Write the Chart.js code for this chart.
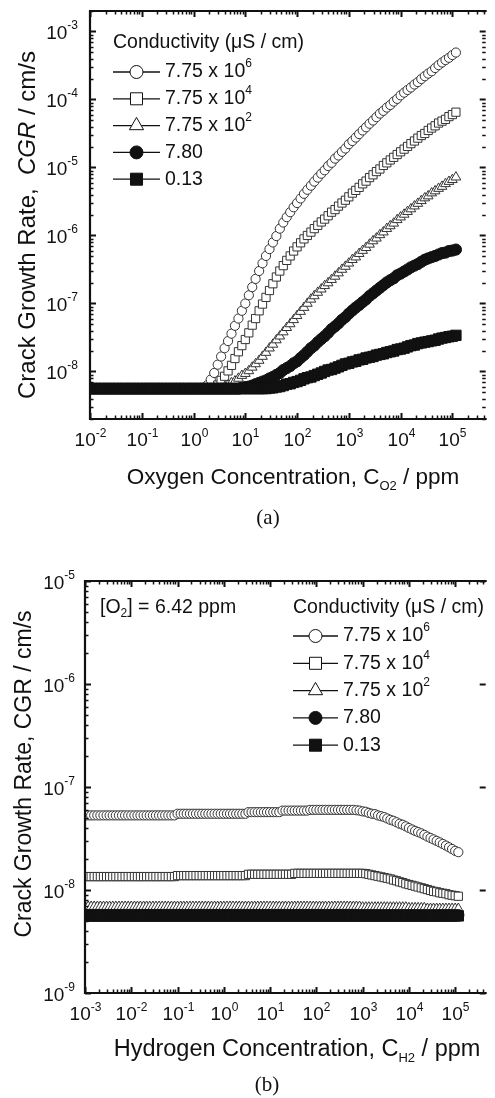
<!DOCTYPE html>
<html>
<head>
<meta charset="utf-8">
<title>Crack growth rate vs O2 / H2 concentration</title>
<script src="https://cdn.jsdelivr.net/npm/chart.js@4.4.0/dist/chart.umd.min.js"></script>
<style>
  html, body { margin: 0; padding: 0; background: #fff; }
  body { width: 495px; height: 1098px; position: relative; overflow: hidden; }
  canvas { position: absolute; left: 0; }
  #chart-o2 { top: 0; }
  #chart-h2 { top: 545px; }
</style>
</head>
<body>
<canvas id="chart-o2" width="495" height="540"></canvas>
<canvas id="chart-h2" width="495" height="553"></canvas>
<script>
// ---- data (one row per decade) ----

// (a) oxygen concentration, ppm
const o2Ppm = [
  0.01, 0.0117, 0.0136, 0.0158, 0.0185, 0.0215, 0.0251, 0.0293, 0.0341, 0.0398, 0.0464, 0.0541, 0.0631, 0.0736, 0.0858,
  0.1, 0.117, 0.136, 0.158, 0.185, 0.215, 0.251, 0.293, 0.341, 0.398, 0.464, 0.541, 0.631, 0.736, 0.858,
  1, 1.17, 1.36, 1.58, 1.85, 2.15, 2.51, 2.93, 3.41, 3.98, 4.64, 5.41, 6.31, 7.36, 8.58,
  10, 11.7, 13.6, 15.8, 18.5, 21.5, 25.1, 29.3, 34.1, 39.8, 46.4, 54.1, 63.1, 73.6, 85.8,
  100, 117, 136, 158, 185, 215, 251, 293, 341, 398, 464, 541, 631, 736, 858,
  1000, 1170, 1360, 1580, 1850, 2150, 2510, 2930, 3410, 3980, 4640, 5410, 6310, 7360, 8580,
  10000, 11700, 13600, 15800, 18500, 21500, 25100, 29300, 34100, 39800, 46400, 54100, 63100, 73600, 85800,
  100000, 117000
];

// CGR (cm/s) for each conductivity (uS/cm)
const o2Cgr775e6 = [
  5.6e-9, 5.6e-9, 5.6e-9, 5.6e-9, 5.6e-9, 5.6e-9, 5.6e-9, 5.6e-9, 5.6e-9, 5.6e-9, 5.6e-9, 5.6e-9, 5.6e-9, 5.6e-9, 5.6e-9,
  5.6e-9, 5.6e-9, 5.6e-9, 5.6e-9, 5.6e-9, 5.6e-9, 5.6e-9, 5.6e-9, 5.6e-9, 5.6e-9, 5.6e-9, 5.6e-9, 5.6e-9, 5.6e-9, 5.6e-9,
  5.6e-9, 5.6e-9, 5.6e-9, 5.6e-9, 6.3e-9, 7.6e-9, 9.5e-9, 1.26e-8, 1.66e-8, 2.2e-8, 2.8e-8, 3.6e-8, 4.7e-8, 6.0e-8, 7.8e-8,
  1.0e-7, 1.32e-7, 1.74e-7, 2.3e-7, 3.0e-7, 3.9e-7, 5.0e-7, 6.3e-7, 7.9e-7, 9.8e-7, 1.26e-6, 1.55e-6, 1.86e-6, 2.2e-6, 2.6e-6,
  3.0e-6, 3.5e-6, 4.1e-6, 4.7e-6, 5.4e-6, 6.2e-6, 7.1e-6, 8.1e-6, 9.1e-6, 1.05e-5, 1.17e-5, 1.35e-5, 1.5e-5, 1.7e-5, 1.9e-5,
  2.2e-5, 2.45e-5, 2.75e-5, 3.1e-5, 3.5e-5, 3.9e-5, 4.4e-5, 4.9e-5, 5.5e-5, 6.2e-5, 6.8e-5, 7.6e-5, 8.3e-5, 9.3e-5, 1.02e-4,
  1.15e-4, 1.26e-4, 1.38e-4, 1.5e-4, 1.66e-4, 1.8e-4, 2.0e-4, 2.2e-4, 2.4e-4, 2.6e-4, 2.9e-4, 3.2e-4, 3.5e-4, 3.8e-4, 4.1e-4,
  4.5e-4, 4.9e-4
];
const o2Cgr775e4 = [
  5.6e-9, 5.6e-9, 5.6e-9, 5.6e-9, 5.6e-9, 5.6e-9, 5.6e-9, 5.6e-9, 5.6e-9, 5.6e-9, 5.6e-9, 5.6e-9, 5.6e-9, 5.6e-9, 5.6e-9,
  5.6e-9, 5.6e-9, 5.6e-9, 5.6e-9, 5.6e-9, 5.6e-9, 5.6e-9, 5.6e-9, 5.6e-9, 5.6e-9, 5.6e-9, 5.6e-9, 5.6e-9, 5.6e-9, 5.6e-9,
  5.6e-9, 5.6e-9, 5.6e-9, 5.6e-9, 5.6e-9, 5.6e-9, 5.6e-9, 6.3e-9, 7.4e-9, 8.5e-9, 1.02e-8, 1.23e-8, 1.55e-8, 1.95e-8, 2.4e-8,
  2.95e-8, 3.7e-8, 4.8e-8, 6.0e-8, 7.8e-8, 9.8e-8, 1.23e-7, 1.55e-7, 1.95e-7, 2.45e-7, 3.0e-7, 3.6e-7, 4.3e-7, 5.0e-7, 5.9e-7,
  6.8e-7, 7.8e-7, 8.9e-7, 1.0e-6, 1.12e-6, 1.26e-6, 1.41e-6, 1.58e-6, 1.74e-6, 1.95e-6, 2.2e-6, 2.4e-6, 2.7e-6, 3.0e-6, 3.3e-6,
  3.7e-6, 4.2e-6, 4.6e-6, 5.1e-6, 5.75e-6, 6.3e-6, 7.1e-6, 7.8e-6, 8.7e-6, 9.5e-6, 1.07e-5, 1.17e-5, 1.29e-5, 1.41e-5, 1.55e-5,
  1.7e-5, 1.86e-5, 2.04e-5, 2.24e-5, 2.45e-5, 2.7e-5, 2.95e-5, 3.16e-5, 3.5e-5, 3.8e-5, 4.1e-5, 4.5e-5, 4.8e-5, 5.1e-5, 5.6e-5,
  6.0e-5, 6.5e-5
];
const o2Cgr775e2 = [
  5.6e-9, 5.6e-9, 5.6e-9, 5.6e-9, 5.6e-9, 5.6e-9, 5.6e-9, 5.6e-9, 5.6e-9, 5.6e-9, 5.6e-9, 5.6e-9, 5.6e-9, 5.6e-9, 5.6e-9,
  5.6e-9, 5.6e-9, 5.6e-9, 5.6e-9, 5.6e-9, 5.6e-9, 5.6e-9, 5.6e-9, 5.6e-9, 5.6e-9, 5.6e-9, 5.6e-9, 5.6e-9, 5.6e-9, 5.6e-9,
  5.6e-9, 5.6e-9, 5.6e-9, 5.6e-9, 5.6e-9, 5.6e-9, 5.6e-9, 5.6e-9, 5.6e-9, 5.9e-9, 6.3e-9, 6.8e-9, 7.2e-9, 7.9e-9, 8.7e-9,
  9.3e-9, 1.02e-8, 1.15e-8, 1.29e-8, 1.45e-8, 1.66e-8, 1.9e-8, 2.2e-8, 2.5e-8, 2.9e-8, 3.3e-8, 3.8e-8, 4.4e-8, 5.0e-8, 5.75e-8,
  6.6e-8, 7.6e-8, 8.7e-8, 1.0e-7, 1.15e-7, 1.29e-7, 1.45e-7, 1.62e-7, 1.82e-7, 2.0e-7, 2.24e-7, 2.5e-7, 2.8e-7, 3.16e-7, 3.5e-7,
  3.9e-7, 4.4e-7, 4.8e-7, 5.4e-7, 6.0e-7, 6.6e-7, 7.4e-7, 8.3e-7, 9.1e-7, 1.02e-6, 1.12e-6, 1.26e-6, 1.38e-6, 1.51e-6, 1.7e-6,
  1.86e-6, 2.04e-6, 2.24e-6, 2.45e-6, 2.7e-6, 2.95e-6, 3.24e-6, 3.55e-6, 3.8e-6, 4.2e-6, 4.5e-6, 4.9e-6, 5.25e-6, 5.75e-6, 6.2e-6,
  6.6e-6, 7.2e-6
];
const o2Cgr780 = [
  5.6e-9, 5.6e-9, 5.6e-9, 5.6e-9, 5.6e-9, 5.6e-9, 5.6e-9, 5.6e-9, 5.6e-9, 5.6e-9, 5.6e-9, 5.6e-9, 5.6e-9, 5.6e-9, 5.6e-9,
  5.6e-9, 5.6e-9, 5.6e-9, 5.6e-9, 5.6e-9, 5.6e-9, 5.6e-9, 5.6e-9, 5.6e-9, 5.6e-9, 5.6e-9, 5.6e-9, 5.6e-9, 5.6e-9, 5.6e-9,
  5.6e-9, 5.6e-9, 5.6e-9, 5.6e-9, 5.6e-9, 5.6e-9, 5.6e-9, 5.6e-9, 5.6e-9, 5.6e-9, 5.6e-9, 5.6e-9, 5.6e-9, 5.6e-9, 5.75e-9,
  5.9e-9, 6.0e-9, 6.2e-9, 6.5e-9, 6.8e-9, 7.1e-9, 7.4e-9, 7.9e-9, 8.3e-9, 8.9e-9, 9.5e-9, 1.05e-8, 1.12e-8, 1.2e-8, 1.32e-8,
  1.41e-8, 1.58e-8, 1.74e-8, 1.95e-8, 2.2e-8, 2.4e-8, 2.7e-8, 3.0e-8, 3.3e-8, 3.7e-8, 4.2e-8, 4.6e-8, 5.1e-8, 5.75e-8, 6.3e-8,
  7.1e-8, 7.9e-8, 8.7e-8, 9.5e-8, 1.05e-7, 1.15e-7, 1.29e-7, 1.41e-7, 1.55e-7, 1.7e-7, 1.86e-7, 2.04e-7, 2.2e-7, 2.35e-7, 2.6e-7,
  2.75e-7, 2.95e-7, 3.16e-7, 3.4e-7, 3.6e-7, 3.8e-7, 4.1e-7, 4.4e-7, 4.6e-7, 4.8e-7, 5.0e-7, 5.25e-7, 5.5e-7, 5.6e-7, 5.9e-7,
  6.0e-7, 6.2e-7
];
const o2Cgr013 = [
  5.6e-9, 5.6e-9, 5.6e-9, 5.6e-9, 5.6e-9, 5.6e-9, 5.6e-9, 5.6e-9, 5.6e-9, 5.6e-9, 5.6e-9, 5.6e-9, 5.6e-9, 5.6e-9, 5.6e-9,
  5.6e-9, 5.6e-9, 5.6e-9, 5.6e-9, 5.6e-9, 5.6e-9, 5.6e-9, 5.6e-9, 5.6e-9, 5.6e-9, 5.6e-9, 5.6e-9, 5.6e-9, 5.6e-9, 5.6e-9,
  5.6e-9, 5.6e-9, 5.6e-9, 5.6e-9, 5.6e-9, 5.6e-9, 5.6e-9, 5.6e-9, 5.6e-9, 5.6e-9, 5.6e-9, 5.6e-9, 5.6e-9, 5.6e-9, 5.6e-9,
  5.6e-9, 5.6e-9, 5.6e-9, 5.6e-9, 5.6e-9, 5.6e-9, 5.6e-9, 5.7e-9, 5.75e-9, 5.9e-9, 6.0e-9, 6.2e-9, 6.5e-9, 6.6e-9, 6.9e-9,
  7.1e-9, 7.4e-9, 7.8e-9, 8.1e-9, 8.3e-9, 8.7e-9, 9.1e-9, 9.5e-9, 1.0e-8, 1.05e-8, 1.07e-8, 1.12e-8, 1.17e-8, 1.23e-8, 1.29e-8,
  1.32e-8, 1.38e-8, 1.41e-8, 1.48e-8, 1.51e-8, 1.58e-8, 1.62e-8, 1.66e-8, 1.74e-8, 1.78e-8, 1.82e-8, 1.9e-8, 1.95e-8, 2.0e-8, 2.1e-8,
  2.14e-8, 2.2e-8, 2.3e-8, 2.4e-8, 2.45e-8, 2.57e-8, 2.63e-8, 2.7e-8, 2.75e-8, 2.82e-8, 2.88e-8, 3.0e-8, 3.1e-8, 3.16e-8, 3.24e-8,
  3.3e-8, 3.4e-8
];

// (b) hydrogen concentration, ppm ([O2] = 6.42 ppm)
const h2Ppm = [
  0.001, 0.00117, 0.00136, 0.00158, 0.00185, 0.00215, 0.00251, 0.00293, 0.00341, 0.00398, 0.00464, 0.00541, 0.00631, 0.00736, 0.00858,
  0.01, 0.0117, 0.0136, 0.0158, 0.0185, 0.0215, 0.0251, 0.0293, 0.0341, 0.0398, 0.0464, 0.0541, 0.0631, 0.0736, 0.0858,
  0.1, 0.117, 0.136, 0.158, 0.185, 0.215, 0.251, 0.293, 0.341, 0.398, 0.464, 0.541, 0.631, 0.736, 0.858,
  1, 1.17, 1.36, 1.58, 1.85, 2.15, 2.51, 2.93, 3.41, 3.98, 4.64, 5.41, 6.31, 7.36, 8.58,
  10, 11.7, 13.6, 15.8, 18.5, 21.5, 25.1, 29.3, 34.1, 39.8, 46.4, 54.1, 63.1, 73.6, 85.8,
  100, 117, 136, 158, 185, 215, 251, 293, 341, 398, 464, 541, 631, 736, 858,
  1000, 1170, 1360, 1580, 1850, 2150, 2510, 2930, 3410, 3980, 4640, 5410, 6310, 7360, 8580,
  10000, 11700, 13600, 15800, 18500, 21500, 25100, 29300, 34100, 39800, 46400, 54100, 63100, 73600, 85800,
  100000, 117000
];
const h2Cgr775e6 = [
  5.3e-8, 5.3e-8, 5.3e-8, 5.3e-8, 5.3e-8, 5.3e-8, 5.3e-8, 5.3e-8, 5.3e-8, 5.3e-8, 5.3e-8, 5.3e-8, 5.3e-8, 5.3e-8, 5.3e-8,
  5.3e-8, 5.3e-8, 5.3e-8, 5.3e-8, 5.3e-8, 5.3e-8, 5.3e-8, 5.3e-8, 5.3e-8, 5.3e-8, 5.3e-8, 5.3e-8, 5.3e-8, 5.3e-8, 5.3e-8,
  5.5e-8, 5.5e-8, 5.5e-8, 5.5e-8, 5.5e-8, 5.5e-8, 5.5e-8, 5.5e-8, 5.5e-8, 5.5e-8, 5.5e-8, 5.5e-8, 5.5e-8, 5.5e-8, 5.5e-8,
  5.5e-8, 5.5e-8, 5.5e-8, 5.5e-8, 5.5e-8, 5.5e-8, 5.5e-8, 5.5e-8, 5.7e-8, 5.7e-8, 5.7e-8, 5.7e-8, 5.7e-8, 5.7e-8, 5.7e-8,
  5.7e-8, 5.7e-8, 5.7e-8, 5.7e-8, 5.9e-8, 5.9e-8, 5.9e-8, 5.9e-8, 5.9e-8, 5.9e-8, 5.9e-8, 5.9e-8, 5.9e-8, 6.0e-8, 6.0e-8,
  6.0e-8, 6.0e-8, 6.0e-8, 6.0e-8, 6.0e-8, 6.0e-8, 6.0e-8, 6.0e-8, 6.0e-8, 6.0e-8, 6.0e-8, 6.0e-8, 6.0e-8, 5.95e-8, 5.9e-8,
  5.8e-8, 5.75e-8, 5.6e-8, 5.5e-8, 5.45e-8, 5.3e-8, 5.2e-8, 5.1e-8, 4.95e-8, 4.8e-8, 4.7e-8, 4.55e-8, 4.4e-8, 4.3e-8, 4.15e-8,
  4.0e-8, 3.87e-8, 3.75e-8, 3.65e-8, 3.55e-8, 3.43e-8, 3.3e-8, 3.2e-8, 3.1e-8, 3.0e-8, 2.9e-8, 2.8e-8, 2.7e-8, 2.6e-8, 2.5e-8,
  2.4e-8, 2.33e-8
];
const h2Cgr775e4 = [
  1.35e-8, 1.35e-8, 1.35e-8, 1.35e-8, 1.35e-8, 1.35e-8, 1.35e-8, 1.35e-8, 1.35e-8, 1.35e-8, 1.35e-8, 1.35e-8, 1.35e-8, 1.35e-8, 1.35e-8,
  1.35e-8, 1.35e-8, 1.35e-8, 1.35e-8, 1.35e-8, 1.35e-8, 1.35e-8, 1.35e-8, 1.35e-8, 1.35e-8, 1.35e-8, 1.35e-8, 1.35e-8, 1.35e-8, 1.35e-8,
  1.38e-8, 1.38e-8, 1.38e-8, 1.38e-8, 1.38e-8, 1.38e-8, 1.38e-8, 1.38e-8, 1.38e-8, 1.38e-8, 1.38e-8, 1.38e-8, 1.38e-8, 1.38e-8, 1.38e-8,
  1.38e-8, 1.38e-8, 1.38e-8, 1.38e-8, 1.38e-8, 1.38e-8, 1.38e-8, 1.38e-8, 1.42e-8, 1.42e-8, 1.42e-8, 1.42e-8, 1.42e-8, 1.42e-8, 1.42e-8,
  1.42e-8, 1.42e-8, 1.42e-8, 1.42e-8, 1.42e-8, 1.42e-8, 1.42e-8, 1.42e-8, 1.45e-8, 1.45e-8, 1.45e-8, 1.45e-8, 1.45e-8, 1.45e-8, 1.45e-8,
  1.45e-8, 1.45e-8, 1.45e-8, 1.45e-8, 1.45e-8, 1.45e-8, 1.45e-8, 1.45e-8, 1.45e-8, 1.45e-8, 1.45e-8, 1.45e-8, 1.45e-8, 1.45e-8, 1.45e-8,
  1.45e-8, 1.44e-8, 1.42e-8, 1.4e-8, 1.38e-8, 1.36e-8, 1.34e-8, 1.32e-8, 1.3e-8, 1.28e-8, 1.25e-8, 1.23e-8, 1.2e-8, 1.18e-8, 1.15e-8,
  1.13e-8, 1.11e-8, 1.09e-8, 1.07e-8, 1.05e-8, 1.03e-8, 1.01e-8, 9.9e-9, 9.7e-9, 9.6e-9, 9.4e-9, 9.3e-9, 9.2e-9, 9.0e-9, 8.9e-9,
  8.8e-9, 8.7e-9
];
const h2Cgr775e2 = [
  6.9e-9, 6.9e-9, 6.9e-9, 6.9e-9, 6.9e-9, 6.9e-9, 6.9e-9, 6.9e-9, 6.9e-9, 6.9e-9, 6.9e-9, 6.9e-9, 6.9e-9, 6.9e-9, 6.9e-9,
  6.9e-9, 6.9e-9, 6.9e-9, 6.9e-9, 6.9e-9, 6.9e-9, 6.9e-9, 6.9e-9, 6.9e-9, 6.9e-9, 6.9e-9, 6.9e-9, 6.9e-9, 6.9e-9, 6.9e-9,
  6.9e-9, 6.9e-9, 6.9e-9, 6.9e-9, 6.9e-9, 6.9e-9, 6.9e-9, 6.9e-9, 6.9e-9, 6.9e-9, 6.9e-9, 6.9e-9, 6.9e-9, 6.9e-9, 6.9e-9,
  6.9e-9, 6.9e-9, 6.9e-9, 6.9e-9, 6.9e-9, 6.9e-9, 6.9e-9, 6.9e-9, 6.9e-9, 6.9e-9, 6.9e-9, 6.9e-9, 6.9e-9, 6.9e-9, 6.9e-9,
  6.9e-9, 6.9e-9, 6.9e-9, 6.9e-9, 6.9e-9, 6.9e-9, 6.9e-9, 6.9e-9, 6.9e-9, 6.9e-9, 6.9e-9, 6.9e-9, 6.9e-9, 6.9e-9, 6.9e-9,
  6.9e-9, 6.9e-9, 6.9e-9, 6.9e-9, 6.9e-9, 6.9e-9, 6.9e-9, 6.9e-9, 6.9e-9, 6.9e-9, 6.9e-9, 6.9e-9, 6.9e-9, 6.9e-9, 6.9e-9,
  6.8e-9, 6.8e-9, 6.8e-9, 6.8e-9, 6.8e-9, 6.8e-9, 6.8e-9, 6.8e-9, 6.8e-9, 6.8e-9, 6.8e-9, 6.8e-9, 6.8e-9, 6.8e-9, 6.8e-9,
  6.7e-9, 6.7e-9, 6.7e-9, 6.7e-9, 6.7e-9, 6.7e-9, 6.6e-9, 6.6e-9, 6.6e-9, 6.6e-9, 6.6e-9, 6.6e-9, 6.6e-9, 6.6e-9, 6.6e-9,
  6.6e-9, 6.6e-9
];
const h2Cgr780 = [
  5.7e-9, 5.7e-9, 5.7e-9, 5.7e-9, 5.7e-9, 5.7e-9, 5.7e-9, 5.7e-9, 5.7e-9, 5.7e-9, 5.7e-9, 5.7e-9, 5.7e-9, 5.7e-9, 5.7e-9,
  5.7e-9, 5.7e-9, 5.7e-9, 5.7e-9, 5.7e-9, 5.7e-9, 5.7e-9, 5.7e-9, 5.7e-9, 5.7e-9, 5.7e-9, 5.7e-9, 5.7e-9, 5.7e-9, 5.7e-9,
  5.7e-9, 5.7e-9, 5.7e-9, 5.7e-9, 5.7e-9, 5.7e-9, 5.7e-9, 5.7e-9, 5.7e-9, 5.7e-9, 5.7e-9, 5.7e-9, 5.7e-9, 5.7e-9, 5.7e-9,
  5.7e-9, 5.7e-9, 5.7e-9, 5.7e-9, 5.7e-9, 5.7e-9, 5.7e-9, 5.7e-9, 5.7e-9, 5.7e-9, 5.7e-9, 5.7e-9, 5.7e-9, 5.7e-9, 5.7e-9,
  5.7e-9, 5.7e-9, 5.7e-9, 5.7e-9, 5.7e-9, 5.7e-9, 5.7e-9, 5.7e-9, 5.7e-9, 5.7e-9, 5.7e-9, 5.7e-9, 5.7e-9, 5.7e-9, 5.7e-9,
  5.7e-9, 5.7e-9, 5.7e-9, 5.7e-9, 5.7e-9, 5.7e-9, 5.7e-9, 5.7e-9, 5.7e-9, 5.7e-9, 5.7e-9, 5.7e-9, 5.7e-9, 5.7e-9, 5.7e-9,
  5.7e-9, 5.7e-9, 5.7e-9, 5.7e-9, 5.7e-9, 5.7e-9, 5.7e-9, 5.7e-9, 5.7e-9, 5.7e-9, 5.7e-9, 5.7e-9, 5.7e-9, 5.7e-9, 5.7e-9,
  5.7e-9, 5.7e-9, 5.7e-9, 5.7e-9, 5.7e-9, 5.7e-9, 5.7e-9, 5.7e-9, 5.7e-9, 5.7e-9, 5.7e-9, 5.7e-9, 5.7e-9, 5.7e-9, 5.7e-9,
  5.7e-9, 5.7e-9
];
const h2Cgr013 = [
  5.6e-9, 5.6e-9, 5.6e-9, 5.6e-9, 5.6e-9, 5.6e-9, 5.6e-9, 5.6e-9, 5.6e-9, 5.6e-9, 5.6e-9, 5.6e-9, 5.6e-9, 5.6e-9, 5.6e-9,
  5.6e-9, 5.6e-9, 5.6e-9, 5.6e-9, 5.6e-9, 5.6e-9, 5.6e-9, 5.6e-9, 5.6e-9, 5.6e-9, 5.6e-9, 5.6e-9, 5.6e-9, 5.6e-9, 5.6e-9,
  5.6e-9, 5.6e-9, 5.6e-9, 5.6e-9, 5.6e-9, 5.6e-9, 5.6e-9, 5.6e-9, 5.6e-9, 5.6e-9, 5.6e-9, 5.6e-9, 5.6e-9, 5.6e-9, 5.6e-9,
  5.6e-9, 5.6e-9, 5.6e-9, 5.6e-9, 5.6e-9, 5.6e-9, 5.6e-9, 5.6e-9, 5.6e-9, 5.6e-9, 5.6e-9, 5.6e-9, 5.6e-9, 5.6e-9, 5.6e-9,
  5.6e-9, 5.6e-9, 5.6e-9, 5.6e-9, 5.6e-9, 5.6e-9, 5.6e-9, 5.6e-9, 5.6e-9, 5.6e-9, 5.6e-9, 5.6e-9, 5.6e-9, 5.6e-9, 5.6e-9,
  5.6e-9, 5.6e-9, 5.6e-9, 5.6e-9, 5.6e-9, 5.6e-9, 5.6e-9, 5.6e-9, 5.6e-9, 5.6e-9, 5.6e-9, 5.6e-9, 5.6e-9, 5.6e-9, 5.6e-9,
  5.6e-9, 5.6e-9, 5.6e-9, 5.6e-9, 5.6e-9, 5.6e-9, 5.6e-9, 5.6e-9, 5.6e-9, 5.6e-9, 5.6e-9, 5.6e-9, 5.6e-9, 5.6e-9, 5.6e-9,
  5.6e-9, 5.6e-9, 5.6e-9, 5.6e-9, 5.6e-9, 5.6e-9, 5.6e-9, 5.6e-9, 5.6e-9, 5.6e-9, 5.6e-9, 5.6e-9, 5.6e-9, 5.6e-9, 5.6e-9,
  5.6e-9, 5.6e-9
];

// legend labels (base text + superscript)
const conductivityBase = ['7.75 x 10', '7.75 x 10', '7.75 x 10', '7.80', '0.13'];
const conductivityExp = ['6', '4', '2', '', ''];

// ---- styling ----
const INK = '#111';
const SANS = '"Liberation Sans", Arial, Helvetica, sans-serif';
const SERIF = '"Liberation Serif", "Times New Roman", serif';

// marker look per series: style, filled, radius on plot, radius in legend
const markers = [
  { style: 'circle',   filled: false, r: 4.6, lr: 6.5 },
  { style: 'rect',     filled: false, r: 5.8, lr: 8.5 },
  { style: 'triangle', filled: false, r: 5.6, lr: 8.2 },
  { style: 'circle',   filled: true,  r: 5.6, lr: 6.5 },
  { style: 'rect',     filled: true,  r: 7.3, lr: 8.5 }
];

function fnt(px, italic) {
  return (italic ? 'italic ' : '') + px + 'px ' + SANS;
}

// text runs: [{t, size, dy, italic}] drawn with middle baseline
function runsWidth(ctx, runs) {
  let w = 0;
  runs.forEach(r => { ctx.font = fnt(r.size, r.italic); w += ctx.measureText(r.t).width; });
  return w;
}
function drawRuns(ctx, runs, x, y) {
  let cx = x;
  ctx.textBaseline = 'middle';
  ctx.textAlign = 'left';
  runs.forEach(r => {
    ctx.font = fnt(r.size, r.italic);
    ctx.fillText(r.t, cx, y + (r.dy || 0));
    cx += ctx.measureText(r.t).width;
  });
}
function powRuns(exp) {
  return [{ t: '10', size: 19 }, { t: String(exp), size: 12, dy: -7.5 }];
}

function markerPath(ctx, style, x, y, r) {
  ctx.beginPath();
  if (style === 'circle') {
    ctx.arc(x, y, r, 0, Math.PI * 2);
  } else if (style === 'rect') {
    const s = r * Math.SQRT1_2;
    ctx.rect(x - s, y - s, 2 * s, 2 * s);
  } else {
    ctx.moveTo(x, y - r);
    ctx.lineTo(x + r * 0.866, y + r * 0.5);
    ctx.lineTo(x - r * 0.866, y + r * 0.5);
    ctx.closePath();
  }
}

function logTicks(min, max) {
  const out = [];
  for (let k = Math.floor(Math.log10(min)); k <= Math.ceil(Math.log10(max)); k++) {
    for (let m = 1; m <= 9; m++) {
      const v = m * Math.pow(10, k);
      if (v >= min * 0.999 && v <= max * 1.001) out.push({ v, major: m === 1, exp: k });
    }
  }
  return out;
}

// frame, inward ticks, tick labels, titles, legend
const decorPlugin = {
  id: 'decor',
  afterDatasetsDraw(chart, args, o) {
    const ctx = chart.ctx, a = chart.chartArea;
    const xs = chart.scales.x, ys = chart.scales.y;
    ctx.save();
    ctx.strokeStyle = INK;
    ctx.fillStyle = INK;

    // ticks + labels
    logTicks(xs.min, xs.max).forEach(t => {
      const px = Math.round(xs.getPixelForValue(t.v)) + 0.5;
      const len = t.major ? 6 : 3.5;
      ctx.lineWidth = t.major ? 2 : 1.5;
      ctx.beginPath();
      ctx.moveTo(px, a.bottom); ctx.lineTo(px, a.bottom - len);
      ctx.moveTo(px, a.top); ctx.lineTo(px, a.top + len);
      ctx.stroke();
      if (t.major) {
        const runs = powRuns(t.exp);
        const w = runsWidth(ctx, runs);
        drawRuns(ctx, runs, px - w / 2, o.xLabelY);
      }
    });
    logTicks(ys.min, ys.max).forEach(t => {
      const py = Math.round(ys.getPixelForValue(t.v)) + 0.5;
      const len = t.major ? 6 : 3.5;
      ctx.lineWidth = t.major ? 2 : 1.5;
      ctx.beginPath();
      ctx.moveTo(a.left, py); ctx.lineTo(a.left + len, py);
      if (t.major || o.rightMinor) { ctx.moveTo(a.right - 1, py); ctx.lineTo(a.right - 1 - len, py); }
      ctx.stroke();
      if (t.major) {
        const runs = powRuns(t.exp);
        const w = runsWidth(ctx, runs);
        drawRuns(ctx, runs, o.yLabelRight - w, py + 2);
      }
    });

    // frame (left, top, bottom)
    ctx.lineWidth = 2.2;
    ctx.beginPath();
    ctx.moveTo(a.right, a.top); ctx.lineTo(a.left, a.top);
    ctx.lineTo(a.left, a.bottom); ctx.lineTo(a.right, a.bottom);
    ctx.stroke();

    // x title
    const xr = o.xTitle;
    const xw = runsWidth(ctx, xr.runs);
    drawRuns(ctx, xr.runs, xr.x - xw / 2, xr.y);

    // y title (rotated)
    const yr = o.yTitle;
    ctx.save();
    ctx.translate(yr.x, yr.y);
    ctx.rotate(-Math.PI / 2);
    const yw = runsWidth(ctx, yr.runs);
    drawRuns(ctx, yr.runs, -yw / 2, 0);
    ctx.restore();

    // panel label
    ctx.font = '21px ' + SERIF;
    ctx.textAlign = 'center';
    ctx.textBaseline = 'middle';
    ctx.fillText(o.panel.t, o.panel.x, o.panel.y);

    // note
    if (o.note) drawRuns(ctx, o.note.runs, o.note.x, o.note.y);

    // legend
    const lg = o.legend;
    drawRuns(ctx, [{ t: 'Conductivity (\u03bcS / cm)', size: 19.5 }], lg.x, lg.titleY);
    chart.data.datasets.forEach((ds, i) => {
      const y = lg.rowY0 + i * lg.dy;
      const mk = markers[i];
      ctx.lineWidth = 1.3;
      ctx.strokeStyle = INK;
      ctx.beginPath();
      ctx.moveTo(lg.x, y); ctx.lineTo(lg.x + lg.lineLen, y);
      ctx.stroke();
      markerPath(ctx, mk.style, lg.x + lg.lineLen / 2, y, mk.lr);
      ctx.fillStyle = mk.filled ? INK : '#fff';
      ctx.fill();
      ctx.lineWidth = 1;
      ctx.stroke();
      ctx.fillStyle = INK;
      const runs = [{ t: conductivityBase[i], size: 19.5 }];
      if (conductivityExp[i]) runs.push({ t: conductivityExp[i], size: 12, dy: -8 });
      drawRuns(ctx, runs, lg.x + lg.lineLen + 5, y);
    });
    ctx.restore();
  }
};

function makeChart(id, xVals, seriesList, xRange, yRange, padding, decor) {
  const datasets = seriesList.map((vals, i) => {
    const mk = markers[i];
    return {
      label: conductivityBase[i] + conductivityExp[i],
      data: xVals.map((x, j) => ({ x: x, y: vals[j] })),
      showLine: false,
      pointStyle: mk.style,
      pointRadius: mk.r,
      pointBorderWidth: 1,
      pointBackgroundColor: mk.filled ? INK : '#fff',
      pointBorderColor: mk.filled ? INK : '#333',
      order: 5 - i,
      clip: 0
    };
  });
  return new Chart(document.getElementById(id), {
    type: 'scatter',
    data: { datasets },
    options: {
      responsive: false,
      animation: false,
      events: [],
      layout: { padding },
      scales: {
        x: { type: 'logarithmic', min: xRange[0], max: xRange[1], display: false },
        y: { type: 'logarithmic', min: yRange[0], max: yRange[1], display: false }
      },
      plugins: { legend: { display: false }, tooltip: { enabled: false }, decor }
    },
    plugins: [decorPlugin]
  });
}

makeChart('chart-o2', o2Ppm,
  [o2Cgr775e6, o2Cgr775e4, o2Cgr775e2, o2Cgr780, o2Cgr013],
  [0.01, 4.6e5], [2e-9, 2e-3],
  { left: 90, right: 0, top: 11, bottom: 121 },
  {
    xLabelY: 441, yLabelRight: 78, rightMinor: true,
    xTitle: { x: 293, y: 478, runs: [
      { t: 'Oxygen Concentration, C', size: 22.5 },
      { t: 'O2', size: 13, dy: 8 },
      { t: ' / ppm', size: 22.5 }
    ] },
    yTitle: { x: 28, y: 225, runs: [
      { t: 'Crack Growth Rate,  ', size: 24 },
      { t: 'CGR', size: 24, italic: true },
      { t: ' / cm/s', size: 24 }
    ] },
    panel: { t: '(a)', x: 268, y: 518 },
    legend: { x: 113, titleY: 43, rowY0: 72, dy: 26.8, lineLen: 47 }
  });

makeChart('chart-h2', h2Ppm,
  [h2Cgr775e6, h2Cgr775e4, h2Cgr775e2, h2Cgr780, h2Cgr013],
  [0.001, 4.8e5], [1e-9, 1e-5],
  { left: 85, right: 0, top: 36, bottom: 105 },
  {
    xLabelY: 470, yLabelRight: 75, rightMinor: false,
    xTitle: { x: 297, y: 505, runs: [
      { t: 'Hydrogen Concentration, C', size: 23.5 },
      { t: 'H2', size: 13, dy: 8 },
      { t: ' / ppm', size: 23.5 }
    ] },
    yTitle: { x: 25, y: 229, runs: [
      { t: 'Crack Growth Rate, CGR / cm/s', size: 23 }
    ] },
    panel: { t: '(b)', x: 267, y: 540 },
    note: { x: 100, y: 63, runs: [
      { t: '[O', size: 19.5 },
      { t: '2', size: 12, dy: 6 },
      { t: '] = 6.42 ppm', size: 19.5 }
    ] },
    legend: { x: 293, titleY: 63, rowY0: 91, dy: 27.3, lineLen: 45 }
  });
</script>
</body>
</html>
